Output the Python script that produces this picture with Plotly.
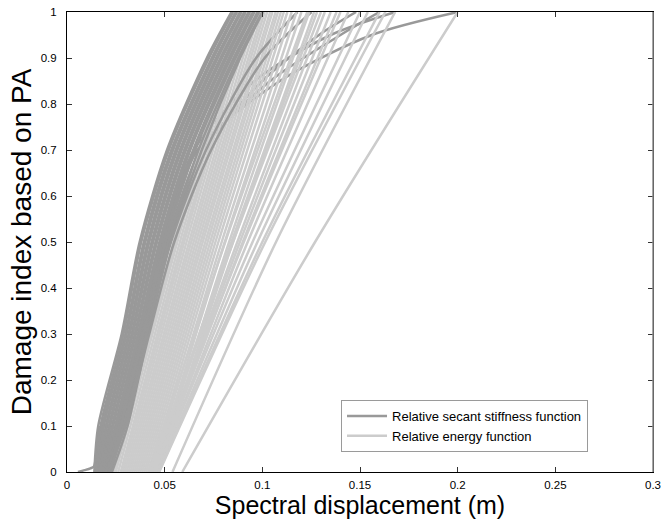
import plotly.graph_objects as go

# ---------------- data ----------------
X_TICKS = [0, 0.05, 0.1, 0.15, 0.2, 0.25, 0.3]
Y_TICKS = [0, 0.1, 0.2, 0.3, 0.4, 0.5, 0.6, 0.7, 0.8, 0.9, 1.0]

SERIES_NAMES = ["Relative secant stiffness function", "Relative energy function"]

# relative secant stiffness curves: x (m) at damage levels DARK_LEVELS
DARK_LEVELS = [0, 0.1, 0.3, 0.5, 0.7, 0.9, 1.0]
DARK_CURVES = [
    [0.0140, 0.0160, 0.0280, 0.0372, 0.0512, 0.0716, 0.0842],
    [0.0147, 0.0172, 0.0289, 0.0380, 0.0521, 0.0727, 0.0851],
    [0.0151, 0.0181, 0.0299, 0.0393, 0.0534, 0.0741, 0.0864],
    [0.0159, 0.0189, 0.0305, 0.0401, 0.0543, 0.0750, 0.0871],
    [0.0163, 0.0199, 0.0315, 0.0413, 0.0556, 0.0763, 0.0886],
    [0.0171, 0.0205, 0.0321, 0.0421, 0.0565, 0.0772, 0.0893],
    [0.0175, 0.0215, 0.0331, 0.0433, 0.0578, 0.0785, 0.0908],
    [0.0183, 0.0221, 0.0337, 0.0441, 0.0587, 0.0794, 0.0915],
    [0.0187, 0.0231, 0.0347, 0.0453, 0.0600, 0.0807, 0.0930],
    [0.0195, 0.0237, 0.0353, 0.0461, 0.0609, 0.0816, 0.0937],
    [0.0199, 0.0247, 0.0363, 0.0473, 0.0622, 0.0829, 0.0952],
    [0.0207, 0.0253, 0.0371, 0.0481, 0.0631, 0.0839, 0.0960],
    [0.0211, 0.0265, 0.0383, 0.0495, 0.0646, 0.0853, 0.0976],
    [0.0219, 0.0275, 0.0391, 0.0505, 0.0657, 0.0863, 0.0984],
    [0.0223, 0.0291, 0.0405, 0.0519, 0.0673, 0.0877, 0.0999],
    [0.0230, 0.0310, 0.0415, 0.0530, 0.0690, 0.0886, 0.1003],
    [0.0200, 0.0290, 0.0410, 0.0532, 0.0712, 0.0968, 0.1180],
    [0.0214, 0.0300, 0.0421, 0.0549, 0.0738, 0.1012, 0.1252],
]

# secant stiffness curve with a low foot near the origin
FOOT_X = [0.0056, 0.0090, 0.0120, 0.0138, 0.0150, 0.0165]
FOOT_Y = [0.0, 0.004, 0.008, 0.012, 0.040, 0.100]

# secant stiffness curves that flatten out near the top
TAIL_LEVELS = [0, 0.1, 0.3, 0.5, 0.7, 0.85, 0.95, 1.0]
TAIL_CURVES = [
    [0.0190, 0.0262, 0.0378, 0.0498, 0.0668, 0.1090, 0.1560, 0.2000],
    [0.0180, 0.0252, 0.0368, 0.0488, 0.0650, 0.0960, 0.1350, 0.1680],
    [0.0205, 0.0275, 0.0392, 0.0512, 0.0690, 0.1040, 0.1400, 0.1600],
    [0.0212, 0.0282, 0.0402, 0.0522, 0.0700, 0.1000, 0.1290, 0.1480],
]

# relative energy curves: x (m) at damage levels LIGHT_LEVELS
LIGHT_LEVELS = [0, 0.5, 1.0]
LIGHT_CURVES = [
    [0.0230, 0.0545, 0.0880],
    [0.0240, 0.0555, 0.0895],
    [0.0250, 0.0565, 0.0905],
    [0.0262, 0.0578, 0.0915],
    [0.0275, 0.0590, 0.0930],
    [0.0285, 0.0600, 0.0940],
    [0.0295, 0.0612, 0.0955],
    [0.0305, 0.0625, 0.0970],
    [0.0315, 0.0636, 0.0985],
    [0.0325, 0.0648, 0.1000],
    [0.0335, 0.0660, 0.1012],
    [0.0345, 0.0672, 0.1025],
    [0.0355, 0.0684, 0.1040],
    [0.0365, 0.0695, 0.1052],
    [0.0375, 0.0708, 0.1068],
    [0.0385, 0.0720, 0.1080],
    [0.0395, 0.0733, 0.1095],
    [0.0405, 0.0746, 0.1110],
    [0.0415, 0.0760, 0.1128],
    [0.0425, 0.0775, 0.1150],
    [0.0435, 0.0792, 0.1175],
    [0.0445, 0.0808, 0.1200],
    [0.0455, 0.0830, 0.1240],
    [0.0465, 0.0850, 0.1280],
    [0.0420, 0.0810, 0.1230],
    [0.0440, 0.0850, 0.1300],
    [0.0430, 0.0842, 0.1265],
    [0.0448, 0.0872, 0.1320],
    [0.0452, 0.0885, 0.1350],
    [0.0456, 0.0900, 0.1380],
    [0.0450, 0.0905, 0.1400],
    [0.0462, 0.0925, 0.1440],
    [0.0460, 0.0950, 0.1500],
    [0.0466, 0.0975, 0.1540],
    [0.0470, 0.1000, 0.1600],
    [0.0472, 0.1015, 0.1630],
    [0.0540, 0.1070, 0.1680],
    [0.0590, 0.1270, 0.2000],
]

DARK = "#999999"
LIGHT = "#cccccc"
LW = 2.5

fig = go.Figure()
shown = {"d": False, "l": False}


def add(x, y, kind):
    color = DARK if kind == "d" else LIGHT
    name = SERIES_NAMES[0] if kind == "d" else SERIES_NAMES[1]
    fig.add_trace(go.Scatter(
        x=x, y=y, mode="lines",
        line=dict(color=color, width=LW, shape="spline", smoothing=0.8),
        name=name, legendgroup=kind, showlegend=not shown[kind],
        hoverinfo="skip",
    ))
    shown[kind] = True


add(FOOT_X, FOOT_Y, "d")
for c in TAIL_CURVES:
    add(c, TAIL_LEVELS, "d")
n = max(len(DARK_CURVES), len(LIGHT_CURVES))
for i in range(n):
    if i < len(DARK_CURVES):
        add(DARK_CURVES[i], DARK_LEVELS, "d")
    if i < len(LIGHT_CURVES):
        add(LIGHT_CURVES[i], LIGHT_LEVELS, "l")

FONT = "Liberation Sans, Arial, Helvetica, sans-serif"

fig.update_layout(
    width=664, height=525,
    margin=dict(l=67, r=11, t=12, b=53),
    paper_bgcolor="white", plot_bgcolor="white",
    font=dict(family=FONT, color="black", size=11.5),
    showlegend=True,
    legend=dict(
        x=0.4676, y=0.1565, xanchor="left", yanchor="top",
        bgcolor="white", bordercolor="#9a9a9a", borderwidth=1,
        font=dict(size=13, family=FONT), itemwidth=40,
        tracegroupgap=0,
    ),
    xaxis=dict(
        range=[0, 0.3], tickvals=X_TICKS, ticktext=[f"{v:g}" for v in X_TICKS],
        showgrid=False, zeroline=False, automargin=False,
        showline=True, linecolor="black", linewidth=1, mirror="ticks",
        ticks="inside", ticklen=5, tickcolor="#333333",
        ticklabelstandoff=2, ticklabeloverflow="allow",
        title=dict(text="Spectral displacement (m)", font=dict(size=25, family=FONT), standoff=2),
    ),
    yaxis=dict(
        range=[0, 1], tickvals=Y_TICKS, ticktext=[f"{v:g}" for v in Y_TICKS],
        showgrid=False, zeroline=False, automargin=False,
        showline=True, linecolor="black", linewidth=1, mirror="ticks",
        ticks="inside", ticklen=5, tickcolor="#333333",
        ticklabelstandoff=7, ticklabeloverflow="allow",
        title=dict(text="Damage index based on PA", font=dict(size=28, family=FONT), standoff=0),
    ),
    shapes=[dict(type="line", xref="paper", yref="paper", x0=1, x1=1, y0=0, y1=1,
                 line=dict(color="#8a8a8a", width=1.5), layer="above")],
)

# remove the default 8px page margin so the 664x525 figure fills the window exactly
fig.write_html(
    "out.html",
    config={"displayModeBar": False, "staticPlot": True},
    post_script="document.body.style.margin='0';document.body.style.overflow='hidden';",
)
